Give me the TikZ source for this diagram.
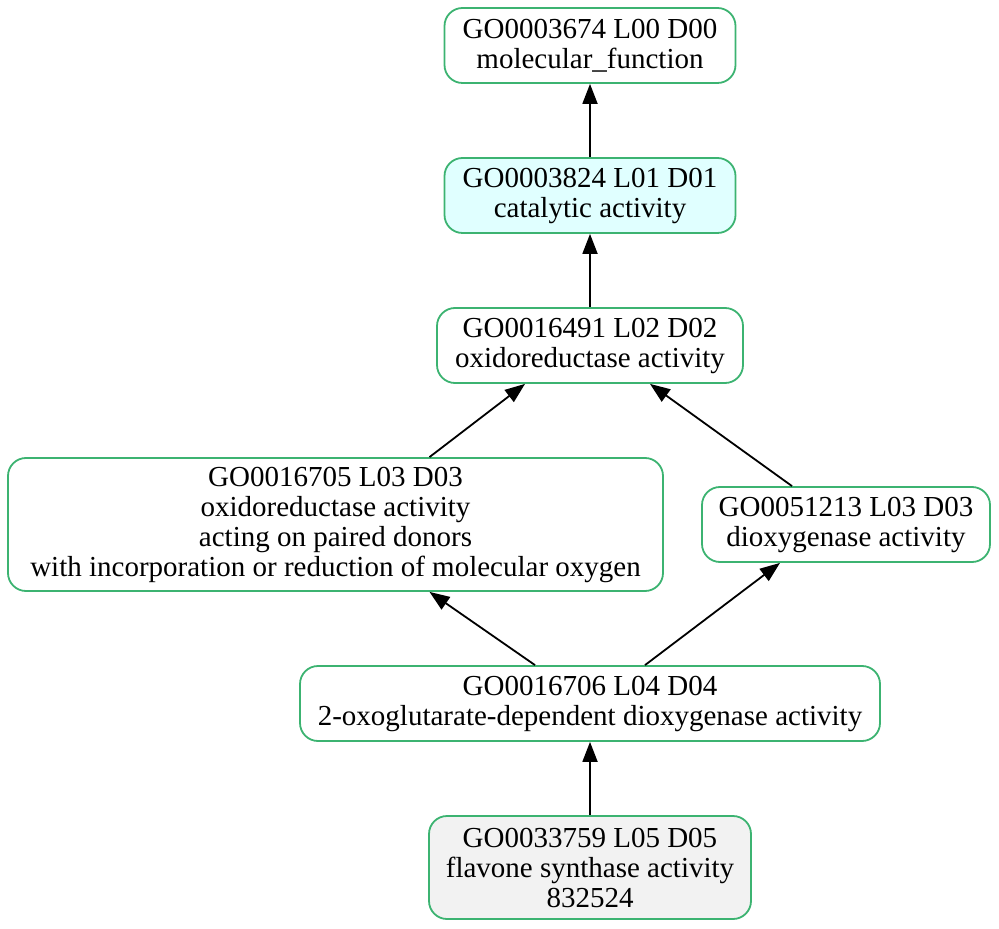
\documentclass[tikz,border=0pt]{standalone}
\usepackage{fontspec}
\setmainfont{Liberation Serif}
\usetikzlibrary{arrows.meta}
\definecolor{goedge}{HTML}{3CB371}
\definecolor{gocyan}{HTML}{E0FFFF}
\definecolor{gogray}{HTML}{F2F2F2}
\begin{document}
\begin{tikzpicture}[x=0.5pt,y=-0.5pt]
	\tikzstyle{every node}+=[inner sep=0pt,font=\fontsize{14.5}{15}\selectfont,align=center]
	\tikzstyle{gonode}=[draw=goedge,line width=0.9pt,rounded corners=9pt,minimum height=37.5pt]
	\tikzstyle{goarrow}=[black,line width=0.9pt,-{Triangle[length=10pt,width=7.5pt]}]
	\useasboundingbox (0,0) rectangle (999,929);
	\node [gonode,minimum width=145.5pt] (n1) at (590,45.5) {GO0003674 L00 D00\\molecular\_function};
	\node [gonode,fill=gocyan,minimum width=145.5pt] (n2) at (590,195.5) {GO0003824 L01 D01\\catalytic activity};
	\node [gonode,minimum width=153pt] (n3) at (590,345.5) {GO0016491 L02 D02\\oxidoreductase activity};
	\node [gonode,minimum width=327.5pt,minimum height=66.5pt] (n4) at (335.5,524.5) {GO0016705 L03 D03\\oxidoreductase activity\\acting on paired donors\\with incorporation or reduction of molecular oxygen};
	\node [gonode,minimum width=144pt] (n5) at (846,524.5) {GO0051213 L03 D03\\dioxygenase activity};
	\node [gonode,minimum width=290pt] (n6) at (590,703.5) {GO0016706 L04 D04\\2-oxoglutarate-dependent dioxygenase activity};
	\node [gonode,fill=gogray,minimum width=161pt,minimum height=51.5pt] (n7) at (590,867.5) {GO0033759 L05 D05\\flavone synthase activity\\832524};
	% edges child -> parent
	\draw [goarrow] (n2.north) -- (n1.south);
	\draw [goarrow] (n3.north) -- (n2.south);
	\draw [goarrow] ([xshift=47pt]n4.north) -- ([xshift=-32.5pt]n3.south);
	\draw [goarrow] ([xshift=-27pt]n5.north) -- ([xshift=30pt]n3.south);
	\draw [goarrow] ([xshift=-27.5pt]n6.north) -- ([xshift=47pt]n4.south);
	\draw [goarrow] ([xshift=27.5pt]n6.north) -- ([xshift=-33pt]n5.south);
	\draw [goarrow] (n7.north) -- (n6.south);
\end{tikzpicture}
\end{document}
